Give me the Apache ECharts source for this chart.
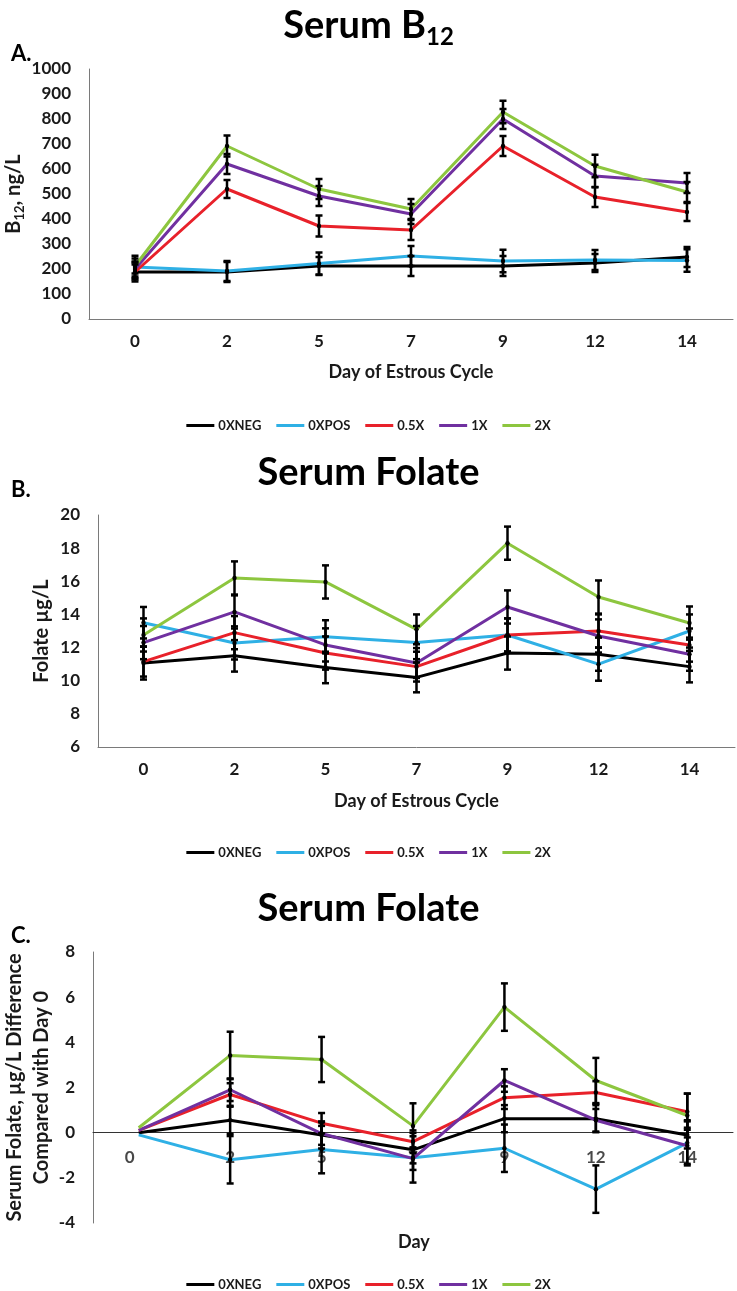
<!DOCTYPE html>
<html>
<head>
<meta charset="utf-8">
<script src="https://cdn.jsdelivr.net/npm/echarts@6/dist/echarts.min.js"></script>
<style>
html,body{margin:0;padding:0;background:#fff;}
#chart{width:737px;height:1291px;}
</style>
</head>
<body>
<div id="chart"></div>
<script>
// ---------- data ----------
const days = ['0', '2', '5', '7', '9', '12', '14'];
const seriesNames = ['0XNEG', '0XPOS', '0.5X', '1X', '2X'];
const seriesColors = ['#000000', '#2fb0e5', '#e8212a', '#7030a0', '#8dc63f'];

// Panel A: Serum B12, ng/L
const b12_0XNEG = [188, 188, 212, 212, 212, 224, 248];
const b12_0XPOS = [208, 192, 222, 252, 232, 236, 234];
const b12_05X   = [188, 520, 372, 356, 692, 488, 428];
const b12_1X    = [200, 620, 492, 420, 800, 572, 544];
const b12_2X    = [212, 692, 520, 440, 828, 612, 508];
const b12Err_0XNEG = [38, 40, 36, 40, 40, 36, 40];
const b12Err_0XPOS = [45, 40, 44, 40, 45, 40, 45];
const b12Err_05X   = [30, 36, 42, 40, 40, 40, 36];
const b12Err_1X    = [30, 40, 40, 40, 40, 45, 40];
const b12Err_2X    = [30, 42, 40, 40, 45, 45, 40];

// Panel B: Serum Folate, µg/L
const fol_0XNEG = [11.07, 11.5, 10.8, 10.2, 11.67, 11.6, 10.85];
const fol_0XPOS = [13.5, 12.28, 12.65, 12.3, 12.76, 11.0, 13.0];
const fol_05X   = [11.15, 12.9, 11.67, 10.85, 12.76, 13.0, 12.15];
const fol_1X    = [12.3, 14.15, 12.16, 11.07, 14.45, 12.7, 11.6];
const fol_2X    = [12.76, 16.2, 15.96, 13.1, 18.3, 15.05, 13.48];
const folErr_0XNEG = [1.0, 0.95, 0.95, 0.9, 1.0, 1.0, 0.95];
const folErr_0XPOS = [0.95, 1.0, 1.0, 1.0, 1.0, 1.0, 1.0];
const folErr_05X   = [0.9, 1.0, 1.0, 0.9, 1.0, 1.0, 1.0];
const folErr_1X    = [1.0, 1.0, 1.0, 0.9, 1.0, 1.0, 1.0];
const folErr_2X    = [1.0, 1.0, 1.0, 0.9, 1.0, 1.0, 1.0];

// Panel C: Serum Folate difference compared with Day 0, µg/L
const dif_0XNEG = [0, 0.55, -0.1, -0.76, 0.62, 0.62, -0.1];
const dif_0XPOS = [-0.1, -1.2, -0.75, -1.11, -0.69, -2.5, -0.45];
const dif_05X   = [0.1, 1.69, 0.42, -0.4, 1.55, 1.78, 0.93];
const dif_1X    = [0.1, 1.9, -0.04, -1.15, 2.31, 0.55, -0.58];
const dif_2X    = [0.22, 3.42, 3.24, 0.3, 5.56, 2.31, 0.76];
const difErr_0XNEG = [0, 0.6, 0.6, 0.6, 0.6, 0.6, 0.6];
const difErr_0XPOS = [0, 1.05, 1.05, 1.1, 1.05, 1.05, 1.0];
const difErr_05X   = [0, 0.5, 0.45, 0.5, 0.5, 0.5, 0.8];
const difErr_1X    = [0, 0.5, 0.5, 0.5, 0.5, 0.5, 0.8];
const difErr_2X    = [0, 1.05, 1.0, 1.0, 1.05, 1.0, 0.97];

const yTicksA = {min: 0, max: 1000, interval: 100};
const yTicksB = {min: 6, max: 20, interval: 2};
const yTicksC = {min: -4, max: 8, interval: 2};

// ---------- chart ----------
const FONT = 'Lato';
const TXT = '#1a1a1a';
const AXIS = '#7a7a7a';

const panels = [
  {vals: [b12_0XNEG, b12_0XPOS, b12_05X, b12_1X, b12_2X],
   errs: [b12Err_0XNEG, b12Err_0XPOS, b12Err_05X, b12Err_1X, b12Err_2X]},
  {vals: [fol_0XNEG, fol_0XPOS, fol_05X, fol_1X, fol_2X],
   errs: [folErr_0XNEG, folErr_0XPOS, folErr_05X, folErr_1X, folErr_2X]},
  {vals: [dif_0XNEG, dif_0XPOS, dif_05X, dif_1X, dif_2X],
   errs: [difErr_0XNEG, difErr_0XPOS, difErr_05X, difErr_1X, difErr_2X]}
];

function errRender(params, api) {
  const x = api.value(0), y = api.value(1), e = api.value(2);
  if (!e) return null;
  const top = api.coord([x, y + e]);
  const bot = api.coord([x, y - e]);
  const mid = api.coord([x, y]);
  const cw = 3.5;
  const st = {stroke: '#000', lineWidth: 2.5};
  return {
    type: 'group',
    children: [
      {type: 'line', shape: {x1: top[0], y1: top[1], x2: bot[0], y2: bot[1]}, style: st},
      {type: 'line', shape: {x1: top[0] - cw, y1: top[1], x2: top[0] + cw, y2: top[1]}, style: st},
      {type: 'line', shape: {x1: bot[0] - cw, y1: bot[1], x2: bot[0] + cw, y2: bot[1]}, style: st},
      {type: 'circle', shape: {cx: mid[0], cy: mid[1], r: 2.2}, style: {fill: '#000'}}
    ]
  };
}

const labelStyle = {fontFamily: FONT, fontWeight: 'bold', fontSize: 17, color: TXT};
const nameStyle = {fontFamily: FONT, fontWeight: 'bold', fontSize: 20, color: TXT};

const series = [];
panels.forEach((p, pi) => {
  seriesNames.forEach((n, si) => {
    series.push({
      name: n, type: 'line', xAxisIndex: pi, yAxisIndex: pi,
      data: p.vals[si], symbol: 'none', z: 2,
      lineStyle: {color: seriesColors[si], width: 3},
      itemStyle: {color: seriesColors[si]}
    });
  });
  seriesNames.forEach((n, si) => {
    series.push({
      name: 'err-' + n, type: 'custom', xAxisIndex: pi, yAxisIndex: pi, z: 3,
      renderItem: errRender,
      data: p.vals[si].map((v, i) => [i, v, p.errs[si][i]])
    });
  });
});
// Panel C category labels sit on the zero line
series.push({
  name: 'c-labels', type: 'scatter', xAxisIndex: 2, yAxisIndex: 2, z: 1,
  symbolSize: 0, silent: true,
  data: days.map((d, i) => ({value: [i, 0], label: i === 0 ? {offset: [-9, 0]} : {}})),
  label: Object.assign({show: true, position: 'bottom', distance: 16,
    formatter: p => days[p.dataIndex]}, labelStyle)
});

function xAx(gi, name, gap) {
  return {
    gridIndex: gi, type: 'category', data: days, boundaryGap: true,
    axisTick: {show: false},
    axisLine: {show: true, onZero: true, lineStyle: {color: gi === 2 ? '#333' : AXIS, width: 1}},
    axisLabel: Object.assign({margin: 14, show: gi !== 2}, labelStyle),
    splitLine: {show: false},
    name: name, nameLocation: 'middle', nameGap: gap, nameMoveOverlap: false,
    nameTextStyle: Object.assign({}, nameStyle, {fontSize: 18})
  };
}
function yAx(gi, t, name, gap, rich) {
  const ns = Object.assign({}, nameStyle);
  if (rich) ns.rich = rich;
  if (gi === 2) ns.lineHeight = 27;
  return {
    gridIndex: gi, type: 'value', min: t.min, max: t.max, interval: t.interval,
    axisTick: {show: false},
    axisLine: {show: true, lineStyle: {color: AXIS, width: 1}},
    axisLabel: Object.assign({margin: 18, formatter: v => String(v)}, labelStyle),
    splitLine: {show: false},
    name: name, nameLocation: 'middle', nameGap: gap, nameMoveOverlap: false,
    nameTextStyle: ns
  };
}

const legendBase = {
  data: seriesNames, icon: 'rect', itemWidth: 28, itemHeight: 3, itemGap: 15,
  left: 'center', selectedMode: false,
  textStyle: {fontFamily: FONT, fontWeight: 'bold', fontSize: 13, color: TXT, padding: [0, 0, 0, -1]}
};

const titleStyle = {fontFamily: FONT, fontWeight: 'bold', fontSize: 38, color: '#000'};
const panelLabel = {fontFamily: FONT, fontWeight: 'bold', fontSize: 22, color: '#000'};
const axTitle = {fontFamily: FONT, fontWeight: 'bold', fontSize: 18, color: TXT};

const option = {
  animation: false,
  backgroundColor: '#fff',
  title: [
    {text: '{a|Serum B}{b|12}', left: 'center', top: -2,
     textStyle: {rich: {
       a: Object.assign({}, titleStyle, {lineHeight: 46}),
       b: Object.assign({}, titleStyle, {fontSize: 24, verticalAlign: 'bottom', lineHeight: 46, padding: [12, 0, 0, 0]})
     }}},
    {text: 'A.', left: 6, top: 38, textStyle: panelLabel},
    {text: 'Serum Folate', left: 'center', top: 449, textStyle: titleStyle},
    {text: 'B.', left: 6, top: 474, textStyle: panelLabel},
    {text: 'Serum Folate', left: 'center', top: 885, textStyle: titleStyle},
    {text: 'C.', left: 6, top: 920, textStyle: panelLabel},
    {text: 'Day', left: 393, top: 1228, textStyle: axTitle}
  ],
  legend: [
    Object.assign({}, legendBase, {top: 414}),
    Object.assign({}, legendBase, {top: 841}),
    Object.assign({}, legendBase, {top: 1273})
  ],
  grid: [
    {left: 89, right: 4, top: 69, height: 250, outerBoundsMode: 'none', containLabel: false},
    {left: 98, right: 2, top: 515, height: 232, outerBoundsMode: 'none', containLabel: false},
    {left: 93, right: 4, top: 952, height: 271, outerBoundsMode: 'none', containLabel: false}
  ],
  xAxis: [
    xAx(0, 'Day of Estrous Cycle', 44),
    xAx(1, 'Day of Estrous Cycle', 45),
    xAx(2, '', 10)
  ],
  yAxis: [
    yAx(0, yTicksA, '{n|B}{s|12}{n|, ng/L}', 63, {
      n: {fontFamily: FONT, fontWeight: 'bold', fontSize: 20, color: TXT, lineHeight: 24},
      s: {fontFamily: FONT, fontWeight: 'bold', fontSize: 13, color: TXT, verticalAlign: 'bottom', lineHeight: 24, padding: [8, 0, 0, 0]}
    }),
    yAx(1, yTicksB, 'Folate µg/L', 46),
    yAx(2, yTicksC, 'Serum Folate, µg/L Difference\nCompared with Day 0', 38)
  ],
  series: series
};

const chart = echarts.init(document.getElementById('chart'), null, {renderer: 'canvas'});
chart.setOption(option);
</script>
</body>
</html>
